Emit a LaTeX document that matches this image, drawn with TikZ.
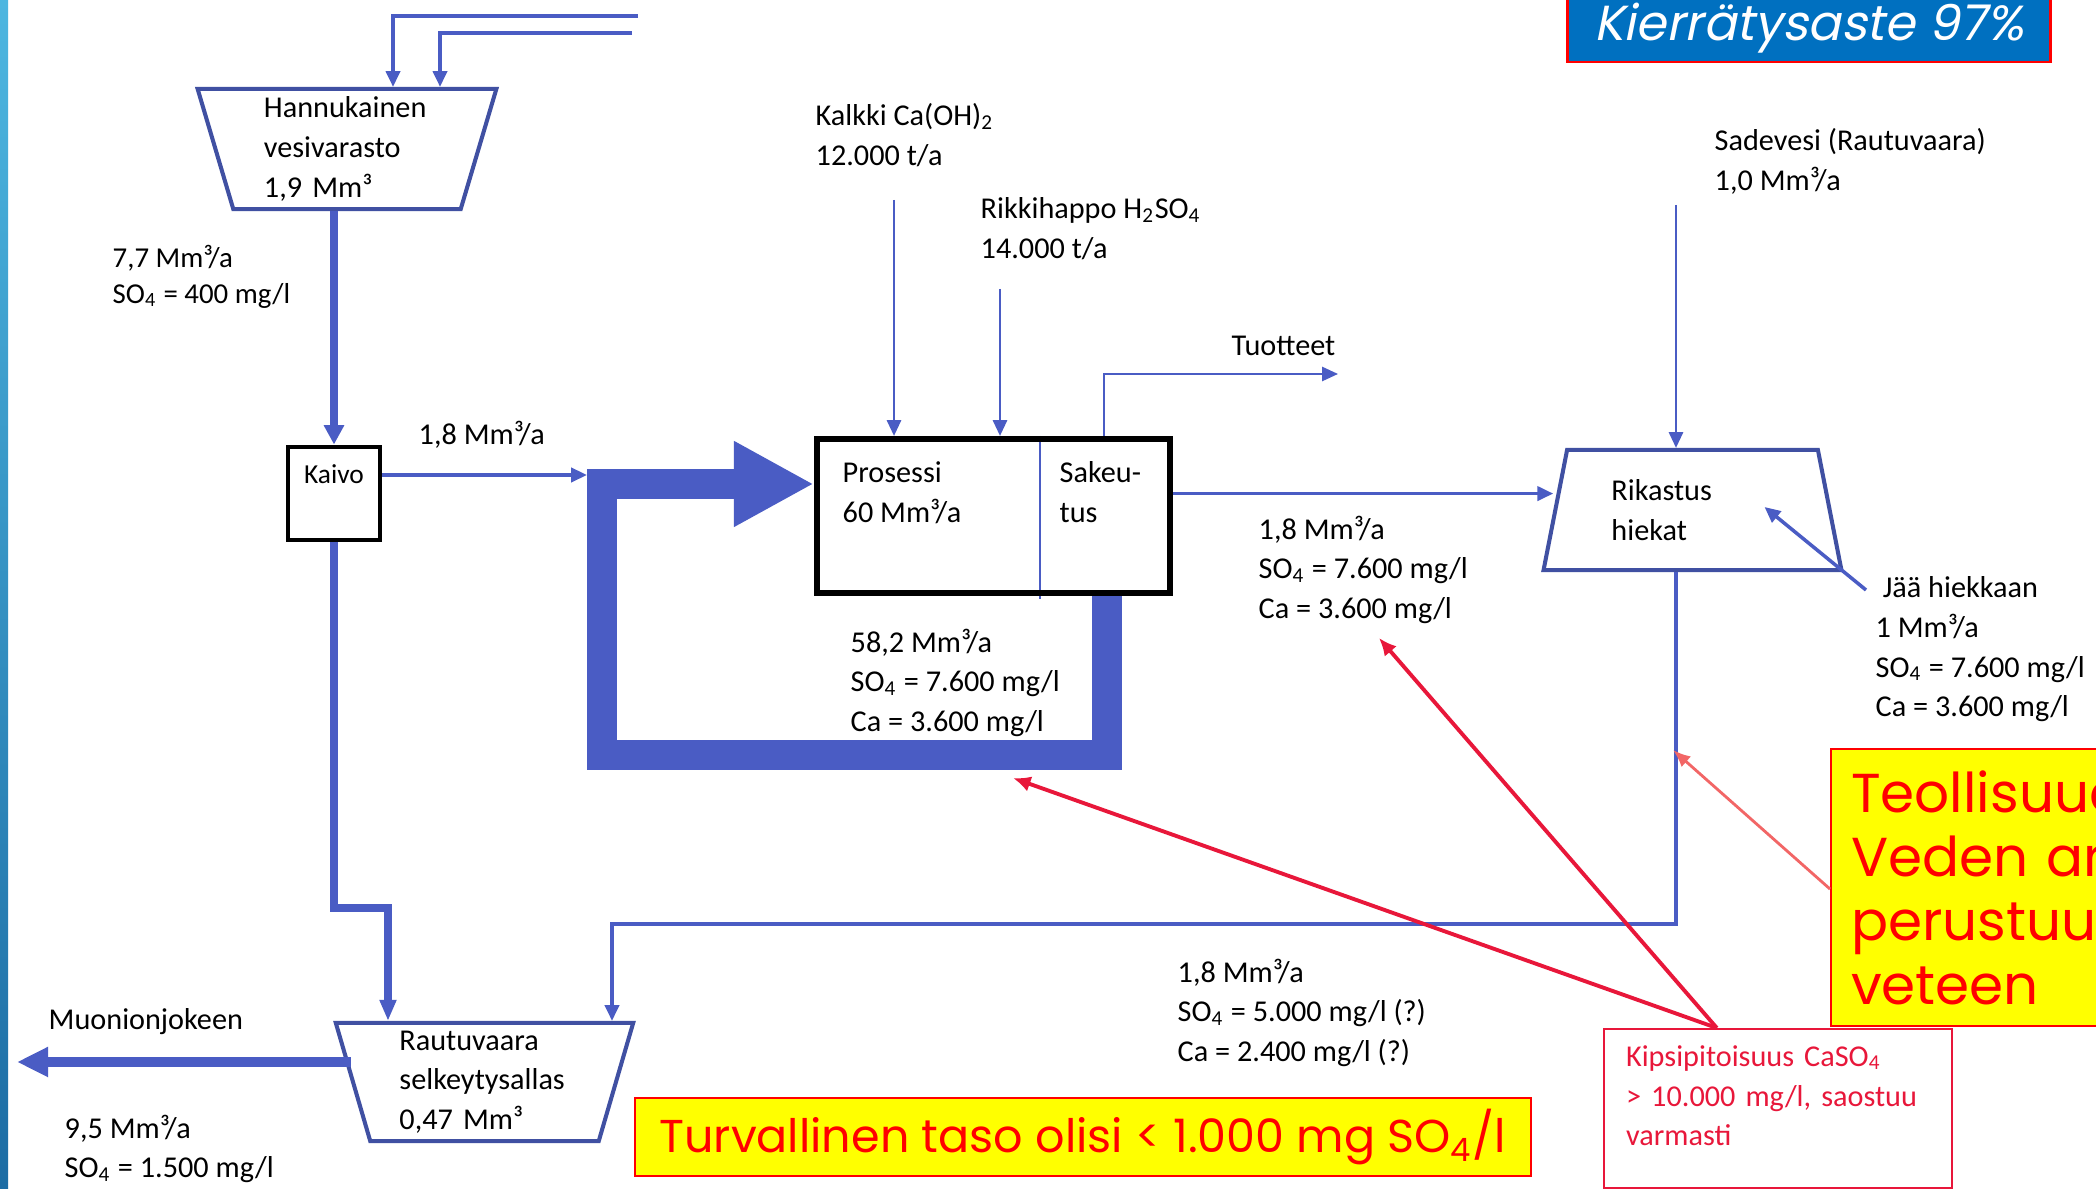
\documentclass[tikz,border=0pt]{standalone}
\usepackage{fontspec}
\setmainfont{Carlito}
\newfontfamily\goottinen{Poppins}
\newfontfamily\goottinenKalteva{Poppins}[FakeSlant=0.2]
\usetikzlibrary{arrows.meta, positioning, shapes.geometric, backgrounds, calc}
\definecolor{virtaus}{HTML}{4A5CC4}
\definecolor{reunus}{HTML}{4050A2}
\definecolor{punainen}{HTML}{FF0000}
\definecolor{karmiini}{HTML}{E8173A}
\definecolor{lohi}{HTML}{F26666}
\definecolor{keltainen}{HTML}{FFFF00}
\definecolor{otsikkosini}{HTML}{0070C0}
\definecolor{raitaYla}{HTML}{4DB6E0}
\definecolor{raitaAla}{HTML}{1C6CA4}
\newcommand{\ala}[1]{\textsubscript{#1}}
\newcommand{\tekstikoko}{\fontsize{8.6}{11.3}\selectfont}
\tikzset{
  allas/.style={
    trapezium, trapezium stretches=true, trapezium angle=76,
    draw=reunus, line width=1.15pt, inner sep=0pt,
    minimum width=2.99cm, minimum height=1.2cm,
    align=left, font=\tekstikoko, text width=1.62cm
  },
  allasAlas/.style={allas, shape border rotate=180},
  laatikko/.style={draw=black, rectangle, inner sep=0pt},
  selite/.style={font=\tekstikoko, align=left, inner sep=0pt, anchor=north west},
  virta/.style={-{Triangle[length=4.5pt,width=4pt]}, line width=1pt, virtaus},
  ohutVirta/.style={virta, line width=0.75pt},
  paksuVirta/.style={-{Triangle[length=5.5pt,width=5.5pt]}, line width=2pt, virtaus},
  kierto/.style={-{Triangle[length=0.8cm,width=0.8cm]}, line width=0.3cm, virtaus},
  poistoVirta/.style={-{Triangle[length=0.31cm,width=0.28cm]}, line width=0.1cm, virtaus},
  huomioNuoli/.style={-{Latex[length=5pt,width=4.5pt]}, line width=1.1pt, karmiini},
  huomioKeltainen/.style={draw=punainen, line width=0.6pt, fill=keltainen,
    text=punainen, inner sep=0pt},
}

\begin{document}
\begin{tikzpicture}[x=0.01cm, y=-0.01cm]
  \clip (0,0) rectangle (2096,1189);
  \shade[top color=raitaYla, bottom color=raitaAla] (0,0) rectangle (8,1189);

  % altaat ja prosessi
  \node[allasAlas, text width=1.66cm] (hannukainen) at (347,149) {Hannukainen\\vesivarasto\\1,9 Mm³};
  \node[laatikko, line width=1.4pt, minimum width=0.92cm, text height=0.37cm, text depth=0.56cm,
        font=\fontsize{7.8}{9}\selectfont] (kaivo) at (334,493.5) {Kaivo};
  \node[laatikko, line width=1.7pt, minimum width=3.53cm, minimum height=1.54cm] (prosessi) at (993.5,516) {};
  \node[selite] (prosessiTeksti) at (842,461) {Prosessi\\60 Mm³/a};
  \node[selite] (sakeutusTeksti) at (1059,461) {Sakeu-\\tus};
  \node[allas] (rikastus) at (1692.5,510) {Rikastus\\hiekat};
  \node[allasAlas, minimum height=1.18cm, text width=1.7cm] (rautuvaara) at (484.5,1082) {Rautuvaara\\selkeytysallas\\0,47 Mm³};

  % virtojen tekstit
  \node[selite, font=\fontsize{8.2}{10}\selectfont] (hannuVirta) at (112,245) {7,7 Mm³/a\\SO\ala{4} = 400 mg/l};
  \node[selite] (kaivoVirta) at (418,420) {1,8 Mm³/a};
  \node[selite] (kalkki) at (815,103) {Kalkki Ca(OH)\ala{2}\\12.000 t/a};
  \node[selite] (rikkihappo) at (980,197) {Rikkihappo H\ala{2}SO\ala{4}\\14.000 t/a};
  \node[selite] (tuotteet) at (1231,335) {Tuotteet};
  \node[selite] (sadevesi) at (1714,128) {Sadevesi (Rautuvaara)\\1,0 Mm³/a};
  \node[selite] (rikastusVirta) at (1258,515) {1,8 Mm³/a\\SO\ala{4} = 7.600 mg/l\\Ca = 3.600 mg/l};
  \node[selite] (kiertoVirta) at (850,628) {58,2 Mm³/a\\SO\ala{4} = 7.600 mg/l\\Ca = 3.600 mg/l};
  \node[selite] (jaa) at (1875,576) {\hspace*{2pt}Jää hiekkaan\\1 Mm³/a\\SO\ala{4} = 7.600 mg/l\\Ca = 3.600 mg/l};
  \node[selite] (paluuVirta) at (1177,958) {1,8 Mm³/a\\SO\ala{4} = 5.000 mg/l (?)\\Ca = 2.400 mg/l (?)};
  \node[selite] (muonio) at (48,1008) {Muonionjokeen};
  \node[selite] (muonioVirta) at (64,1114) {9,5 Mm³/a\\SO\ala{4} = 1.500 mg/l};

  % huomiot
  \node[fill=otsikkosini, draw=punainen, line width=0.7pt, anchor=south, minimum width=4.83cm,
        inner sep=0pt, text height=0.65cm, text depth=0.21cm, text=white,
        font=\goottinenKalteva\fontsize{14}{16}\selectfont] (otsikko) at (1809,63) {Kierrätysaste 97\%};
  \node[huomioKeltainen, anchor=north west, minimum width=8.95cm, minimum height=0.78cm,
        font=\goottinen\fontsize{13.1}{15}\selectfont] (turvallinen) at (634,1097)
        {Turvallinen taso olisi < 1.000 mg SO\ala{4}/l};
  \node[huomioKeltainen, anchor=north west, minimum height=2.77cm, text width=3.6cm, inner xsep=0.2cm,
        align=left, font=\goottinen\fontsize{15.6}{18.2}\selectfont] (teollisuus) at (1830,748)
        {Teollisuud\\Veden arv\\perustuu t\\veteen};
  \node[draw=karmiini, line width=0.6pt, fill=white, anchor=north west, minimum height=1.59cm,
        text width=3.04cm, inner xsep=0.22cm, inner ysep=0pt, align=left, text=karmiini,
        font=\tekstikoko] (kipsi) at (1603,1028)
        {Kipsipitoisuus CaSO\ala{4}\\> 10.000 mg/l, saostuu\\varmasti\\[-0.14cm]\mbox{}};

  % kierto ja jakoviiva taustalla
  \begin{scope}[on background layer]
    \fill[white] (8,0) rectangle (2096,1189);
    \coordinate (jako) at ($(prosessi.north west)!0.629!(prosessi.north east)$);
    \draw[virtaus, line width=0.6pt] (jako) -- ([yshift=-0.3mm]jako |- prosessi.south);
    \coordinate (kiertoKulma) at (602,755);
    \draw[kierto] ($(prosessi.south west)!0.816!(prosessi.south east)$) |- (kiertoKulma)
      |- ($(prosessi.north west)!0.3!(prosessi.south west)$);
  \end{scope}

  % syotot vesivarastoon
  \coordinate (tulo1) at (638,16);
  \coordinate (tulo2) at (632,33);
  \draw[virta] (tulo1) -| ($(hannukainen.north)+(46,0)$);
  \draw[virta] (tulo2) -| ($(hannukainen.north)+(93,0)$);
  \draw[paksuVirta] (kaivo.north |- hannukainen.south) -- (kaivo.north);

  % kaivosta kiertoon ja altaaseen
  \coordinate (syotto) at (587,475);
  \draw[virta] (syotto -| kaivo.east) -- (syotto);
  \coordinate (ohitusKulma) at (388,908);
  \draw[paksuVirta, -{Triangle[length=6pt,width=4.5pt]}] (kaivo.south) |- (ohitusKulma)
    -- (ohitusKulma |- rautuvaara.north);

  % kemikaalit ja tuotteet
  \coordinate (kalkkiAlku) at (894,200);
  \coordinate (rikkiAlku) at (1000,289);
  \draw[ohutVirta] (kalkkiAlku) -- (kalkkiAlku |- prosessi.north);
  \draw[ohutVirta] (rikkiAlku) -- (rikkiAlku |- prosessi.north);
  \coordinate (tuoteAlku) at ($(prosessi.north west)!0.807!(prosessi.north east)$);
  \coordinate (tuotteetLoppu) at (1338,374);
  \draw[ohutVirta, line width=0.6pt] (tuoteAlku) |- (tuotteetLoppu);

  % rikastushiekat
  \coordinate (rikastukseen) at ($(prosessi.north east)!0.36!(prosessi.south east)$);
  \draw[virta] (rikastukseen) -- (rikastukseen -| rikastus.west);
  \coordinate (sadeAlku) at (1676,205);
  \draw[ohutVirta] (sadeAlku) -- (sadeAlku |- rikastus.north);
  \coordinate (hiekkaan) at ($(rikastus.center)+(72,-3)$);
  \draw[virta] ($(jaa.north west)+(-9,14)$) -- (hiekkaan);
  \coordinate (paluuKulma) at (612,924);
  \draw[virta] (rikastus.south -| sadeAlku) |- (paluuKulma) -- (paluuKulma |- rautuvaara.north);

  % purku jokeen
  \coordinate (purku) at (17,1062);
  \draw[poistoVirta] (purku -| rautuvaara.west) -- (purku);

  % huomionuolet
  \coordinate (kipsiKarki) at ($(kipsi.north west)!0.325!(kipsi.north east)$);
  \coordinate (kohdeRikastus) at (1379,638);
  \coordinate (kohdeKierto) at (1013,778);
  \draw[huomioNuoli] (kipsiKarki) -- (kohdeRikastus);
  \draw[huomioNuoli] (kipsiKarki) -- (kohdeKierto);
  \coordinate (kohdePaluu) at (1673,750);
  \draw[-{Latex[length=5pt,width=4pt]}, line width=0.8pt, lohi]
    ($(teollisuus.north west)!0.505!(teollisuus.south west)$) -- (kohdePaluu);
\end{tikzpicture}
\end{document}
